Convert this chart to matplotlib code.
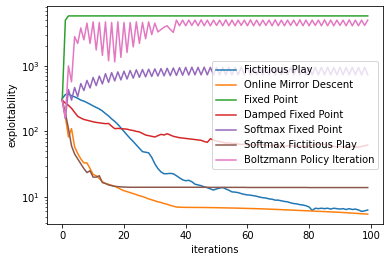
import numpy as np
import matplotlib
matplotlib.use('Agg')
import matplotlib.pyplot as plt

iterations = np.arange(100)

fictitious_play = [
    318, 365, 370, 350, 337, 320, 300, 290, 275, 260,
    245, 232, 220, 205, 187, 172, 155, 142, 128, 113,
    100, 88, 78, 70, 62, 55, 49, 48, 47, 40,
    32, 27, 24, 22.5, 22.6, 22.8, 22.5, 21, 19.5, 18.2,
    17.6, 17.9, 17, 15.6, 15.2, 14.8, 14.2, 13.8, 13.2, 12.7,
    13.2, 13.6, 13.9, 13.2, 12.6, 11.9, 11.8, 11.6, 11.2, 10.9,
    10.7, 10.6, 10.4, 10.2, 9.9, 9.7, 9.6, 9.3, 9.2, 8.9,
    8.9, 8.7, 8.5, 8.4, 8.1, 7.9, 7.8, 7.6, 7.5, 7.3,
    7.0, 6.2, 6.7, 6.6, 6.7, 6.6, 6.7, 6.5, 6.7, 6.6,
    6.5, 6.6, 6.4, 6.6, 6.4, 6.5, 6.3, 6.0, 6.1, 6.3]

online_mirror_descent = [
    300, 170, 82, 110, 58, 46, 38, 33, 33, 27,
    22, 21, 19, 17, 16, 15.5, 15, 14.5, 13.8, 13,
    12.4, 12.0, 11.6, 11.2, 10.8, 10.4, 10.1, 9.7, 9.3, 9.0,
    8.7, 8.4, 8.2, 7.9, 7.7, 7.4, 7.2, 7.0, 6.95, 6.92,
    6.9, 6.9, 6.89, 6.89, 6.88, 6.88, 6.87, 6.86, 6.85, 6.84,
    6.82, 6.81, 6.79, 6.78, 6.76, 6.75, 6.73, 6.71, 6.69, 6.67,
    6.65, 6.63, 6.61, 6.59, 6.57, 6.55, 6.52, 6.49, 6.46, 6.43,
    6.4, 6.37, 6.34, 6.31, 6.28, 6.25, 6.22, 6.19, 6.16, 6.13,
    6.1, 6.07, 6.04, 6.01, 5.98, 5.95, 5.92, 5.89, 5.86, 5.83,
    5.8, 5.76, 5.72, 5.68, 5.64, 5.6, 5.56, 5.52, 5.48, 5.45]

fixed_point = [300, 5000] + [5800] * 98

damped_fixed_point = [
    300, 270, 250, 225, 195, 170, 160, 152, 148, 144,
    140, 137, 135, 133, 131, 132, 120, 110, 111, 110,
    109, 108, 105, 103, 100, 98, 93, 88, 86, 84,
    82, 86, 90, 88, 92, 88, 84, 82, 80, 79,
    78, 77, 76, 75, 74, 73, 70, 68, 77, 74,
    71, 70, 68, 66, 67, 65, 66, 64, 63, 64,
    62, 63, 61, 62, 64, 63, 61, 60, 61, 62,
    60, 61, 59, 60, 61, 60, 59, 60, 58, 59,
    60, 61, 63, 64, 65, 63, 61, 60, 59, 58,
    59, 58, 57, 58, 59, 58, 57, 59, 60, 62]

softmax_fixed_point = [
    300, 156, 435, 300, 467, 340, 537, 420, 600, 460,
    665, 500, 700, 530, 760, 560, 790, 590, 810, 610,
    830, 630, 850, 650, 870, 670, 880, 680, 890, 690,
    900, 700, 910, 705, 920, 710, 930, 715, 940, 720,
    950, 725, 955, 730, 950, 730, 955, 730, 950, 730,
    955, 730, 950, 730, 955, 730, 950, 730, 955, 730,
    950, 730, 955, 730, 950, 730, 955, 730, 950, 730,
    955, 730, 950, 730, 955, 730, 950, 730, 955, 730,
    950, 730, 955, 730, 950, 730, 955, 730, 950, 730,
    955, 730, 950, 730, 955, 730, 950, 730, 955, 730]

softmax_fictitious_play = [
    300, 190, 111, 60, 45, 38, 32, 27, 23.5, 25,
    20, 20, 21, 16.5, 16, 15.2, 14.8, 14.5, 14.3, 14.2,
    14.1, 14.05, 14.0, 14.0, 14.0, 14.0, 14.0, 14.0, 14.0, 14.0,
    14.0, 14.0, 14.0, 14.0, 14.0, 14.0, 14.0, 14.0, 14.0, 14.0,
    14.0, 14.0, 14.0, 14.0, 14.0, 14.0, 14.0, 14.0, 13.95, 13.95,
    13.95, 13.95, 13.95, 13.95, 13.95, 13.95, 13.95, 13.95, 13.95, 13.95,
    13.9, 13.9, 13.9, 13.9, 13.9, 13.9, 13.9, 13.9, 13.9, 13.9,
    13.9, 13.9, 13.9, 13.9, 13.9, 13.9, 13.9, 13.9, 13.9, 13.9,
    13.85, 13.85, 13.85, 13.85, 13.85, 13.85, 13.85, 13.85, 13.85, 13.85,
    13.85, 13.85, 13.85, 13.85, 13.85, 13.85, 13.85, 13.85, 13.85, 13.85]

boltzmann_policy_iteration = [
    300, 160, 1000, 570, 2800, 2200, 3800, 2500, 4500, 2200,
    4700, 1750, 4600, 1450, 4700, 1200, 4600, 1150, 4700, 1350,
    4600, 1600, 4600, 1950, 4700, 2200, 4600, 2600, 4700, 3000,
    4500, 3300, 3600, 3900, 4100, 3600, 3250, 5000, 4100, 5000,
    4100, 5000, 4150, 5000, 4100, 5050, 4100, 5000, 4100, 5000,
    4150, 5000, 4100, 5050, 4100, 5000, 4100, 5000, 4150, 5000,
    4100, 5050, 4100, 5000, 4100, 5000, 4150, 5000, 4100, 5050,
    4100, 5000, 4100, 5000, 4150, 5000, 4100, 5050, 4100, 5000,
    4100, 5000, 4150, 5000, 4100, 5050, 4100, 5000, 4100, 5000,
    4150, 5000, 4100, 5050, 4100, 5000, 4100, 5000, 4150, 5000]

fig = plt.figure(figsize=(388/72, 262/72), dpi=72)
ax = fig.add_axes([47/388, 1-224/262, 336/388, 218/262])

ax.plot(iterations, fictitious_play, label='Fictitious Play')
ax.plot(iterations, online_mirror_descent, label='Online Mirror Descent')
ax.plot(iterations, fixed_point, label='Fixed Point')
ax.plot(iterations, damped_fixed_point, label='Damped Fixed Point')
ax.plot(iterations, softmax_fixed_point, label='Softmax Fixed Point')
ax.plot(iterations, softmax_fictitious_play, label='Softmax Fictitious Play')
ax.plot(iterations, boltzmann_policy_iteration, label='Boltzmann Policy Iteration')

ax.set_yscale('log')
ax.set_xlabel('iterations')
ax.set_ylabel('exploitability')
ax.legend(loc='center right')

fig.savefig('out.png', dpi=72)
